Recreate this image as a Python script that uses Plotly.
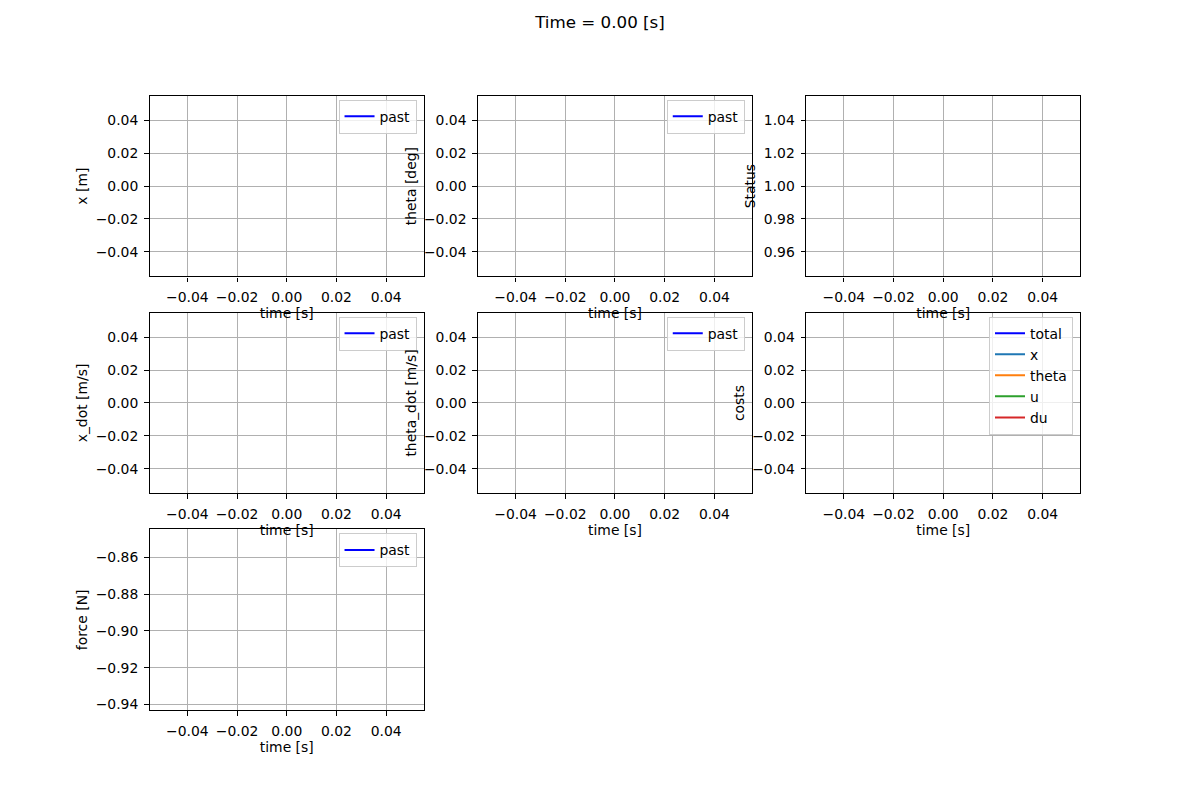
import plotly.graph_objects as go

# ---------------- data (single sample at t = 0) ----------------
time_s = [0.0]
x_pos = [0.0]
theta_deg = [0.0]
status = [1.0]
x_dot = [0.0]
theta_dot = [0.0]
force = [-0.894]
cost_total = [0.0]
cost_x = [0.0]
cost_theta = [0.0]
cost_u = [0.0]
cost_du = [0.0]

time_ticks = [-0.04, -0.02, 0.0, 0.02, 0.04]
time_tick_labels = ["−0.04", "−0.02", "0.00", "0.02", "0.04"]
zero_ticks = [-0.04, -0.02, 0.0, 0.02, 0.04]
zero_tick_labels = ["−0.04", "−0.02", "0.00", "0.02", "0.04"]
status_ticks = [0.96, 0.98, 1.00, 1.02, 1.04]
status_tick_labels = ["0.96", "0.98", "1.00", "1.02", "1.04"]
force_ticks = [-0.94, -0.92, -0.90, -0.88, -0.86]
force_tick_labels = ["−0.94", "−0.92", "−0.90", "−0.88", "−0.86"]

title_text = "Time = 0.00 [s]"

FONT = "DejaVu Sans, Verdana, sans-serif"
FS = 13.9


def auto_range(vals):
    # matplotlib-like limits for a degenerate (single-value) data set
    lo, hi = min(vals), max(vals)
    if lo == hi:
        half = 0.05 * abs(lo) if lo != 0 else 0.05
        lo, hi = lo - half, hi + half
    pad = 0.05 * (hi - lo)
    return [lo - pad, hi + pad]


W, H = 1200, 800
L, R, T, B = 0.125, 0.9, 0.88, 0.11
ws, hs = 0.2, 0.2
cw = (R - L) / (3 + 2 * ws)
ch = (T - B) / (3 + 2 * hs)
xdom = [[L + i * cw * (1 + ws), L + i * cw * (1 + ws) + cw] for i in range(3)]
ydom = [[T - j * ch * (1 + hs) - ch, T - j * ch * (1 + hs)] for j in range(3)]

panels = [
    # (row, col, ylabel, y data, yticks, ylabels, legend?)
    (0, 0, "x [m]", x_pos, zero_ticks, zero_tick_labels, True),
    (0, 1, "theta [deg]", theta_deg, zero_ticks, zero_tick_labels, True),
    (0, 2, "Status", status, status_ticks, status_tick_labels, False),
    (1, 0, "x_dot [m/s]", x_dot, zero_ticks, zero_tick_labels, True),
    (1, 1, "theta_dot [m/s]", theta_dot, zero_ticks, zero_tick_labels, True),
    (1, 2, "costs", cost_total, zero_ticks, zero_tick_labels, True),
    (2, 0, "force [N]", force, force_ticks, force_tick_labels, True),
]

fig = go.Figure()
layout = dict(
    width=W, height=H,
    margin=dict(l=0, r=0, t=0, b=0),
    paper_bgcolor="white", plot_bgcolor="white",
    showlegend=True,
    font=dict(family=FONT, size=FS, color="black"),
    title=dict(text=title_text, x=0.5, xanchor="center", y=0.98, yanchor="top",
               xref="paper", yref="container",
               font=dict(family=FONT, size=16.7, color="black")),
)

axis_common = dict(
    showline=True, linecolor="black", linewidth=1.1, mirror=True,
    ticks="outside", ticklen=4.9, tickwidth=1.1, tickcolor="black",
    showgrid=True, gridcolor="#b0b0b0", gridwidth=1.1,
    zeroline=False, tickfont=dict(family=FONT, size=FS, color="black"),
    ticklabelstandoff=3,
)

for k, (r, c, ylab, ydata, yt, ytl, has_leg) in enumerate(panels):
    n = k + 1
    xa = "x" if n == 1 else f"x{n}"
    ya = "y" if n == 1 else f"y{n}"
    leg = "legend" if n == 1 else f"legend{n}"
    if ylab == "costs":
        series = [("total", cost_total, "blue"), ("x", cost_x, "#1f77b4"),
                  ("theta", cost_theta, "#ff7f0e"), ("u", cost_u, "#2ca02c"),
                  ("du", cost_du, "#d62728")]
        yvals = cost_total + cost_x + cost_theta + cost_u + cost_du
    else:
        series = [("past", ydata, "blue")]
        yvals = ydata
    for name, vals, col in series:
        fig.add_trace(go.Scatter(x=time_s, y=vals, mode="lines", name=name,
                                 line=dict(color=col, width=2),
                                 xaxis=xa, yaxis=ya, legend=leg,
                                 showlegend=has_leg, hoverinfo="skip"))
    layout["xaxis" if n == 1 else f"xaxis{n}"] = dict(
        axis_common, domain=xdom[c], anchor=ya, range=auto_range(time_s),
        tickmode="array", tickvals=time_ticks, ticktext=time_tick_labels,
        title=dict(text="time [s]", standoff=2, font=dict(family=FONT, size=FS, color="black")),
    )
    layout["yaxis" if n == 1 else f"yaxis{n}"] = dict(
        axis_common, domain=ydom[r], anchor=xa, range=auto_range(yvals),
        tickmode="array", tickvals=yt, ticktext=ytl,
        title=dict(text=ylab, standoff=4, font=dict(family=FONT, size=FS, color="black")),
    )
    if has_leg:
        layout[leg] = dict(
            visible=True,
            x=xdom[c][1] - 7 / W, y=ydom[r][1] - 4 / H, xanchor="right", yanchor="top",
            xref="paper", yref="paper",
            bgcolor="rgba(255,255,255,0.8)", bordercolor="#cccccc", borderwidth=1,
            font=dict(family=FONT, size=FS, color="black"),
            tracegroupgap=0,
        )

fig.update_layout(**layout)
fig.write_html("out.html",
               config={"displayModeBar": False},
               post_script="document.body.style.margin='0';document.body.style.overflow='hidden';")
